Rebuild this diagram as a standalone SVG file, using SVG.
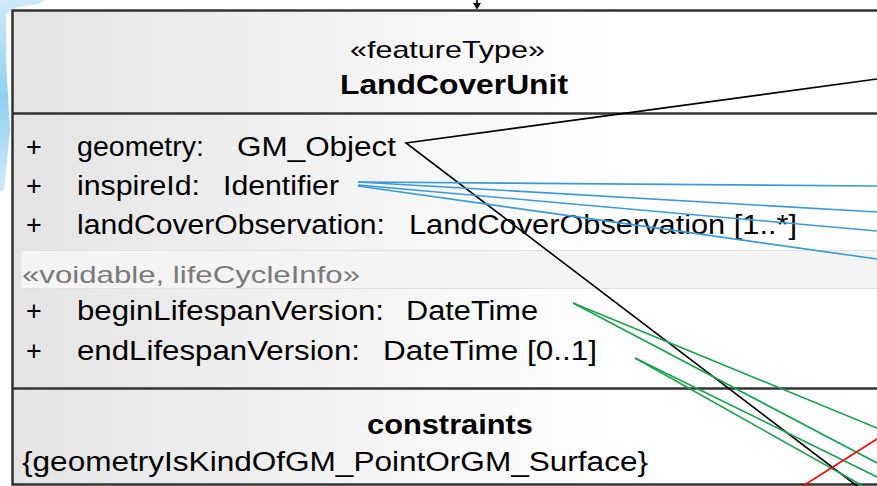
<svg xmlns="http://www.w3.org/2000/svg" width="877" height="486" viewBox="0 0 877 486">
<style>
.t{font-family:"Liberation Sans",Arial,sans-serif;fill:#000;}
.attr{font-size:27px;}
.b{font-weight:bold;}
.grey{fill:#7a7a7a;}
.border{stroke:#333;stroke-width:2.5;fill:none;}
.conn{fill:none;stroke-width:1.6;}
.blk{stroke:#000;}
.blu{stroke:#3a9ad9;}
.grn{stroke:#17a34a;}
.red{stroke:#f00;}
</style>
<defs>
<linearGradient id="boxfill" x1="12" y1="0" x2="620" y2="0" gradientUnits="userSpaceOnUse">
<stop offset="0" stop-color="#e4e4e4"/>
<stop offset="1" stop-color="#ffffff"/>
</linearGradient>
<linearGradient id="deco" x1="0" y1="0" x2="0" y2="1">
<stop offset="0" stop-color="#cfeaf8"/>
<stop offset="0.5" stop-color="#8fd0f2"/>
<stop offset="1" stop-color="#cfeaf8"/>
</linearGradient>
</defs>
<rect x="0" y="0" width="877" height="486" fill="#fff"/>
<path d="M0,0 L46,0 L38,4 L14,8 L6,14 L6,60 L10,130 L4,190 L0,192 Z" fill="url(#deco)"/>
<g id="LandCoverUnit">
<rect x="12.5" y="10.5" width="880" height="474" fill="url(#boxfill)"/>
<rect x="21" y="250.5" width="870" height="38" fill="#f4f4f4" stroke="#e2e2e2" stroke-width="1"/>
<rect x="12.5" y="10.5" width="880" height="474" class="border"/>
<line x1="12" y1="113.5" x2="877" y2="113.5" class="border"/>
<line x1="12" y1="388.5" x2="877" y2="388.5" class="border"/>
<text class="t" x="350" y="58" font-size="24" textLength="195" lengthAdjust="spacingAndGlyphs">«featureType»</text>
<text class="t b" x="340" y="94" font-size="28" textLength="228" lengthAdjust="spacingAndGlyphs">LandCoverUnit</text>
<g class="t attr">
<text x="26" y="156">+</text>
<text x="77" y="156" textLength="127" lengthAdjust="spacingAndGlyphs">geometry:</text>
<text x="237" y="156" textLength="159" lengthAdjust="spacingAndGlyphs">GM_Object</text>
<text x="26" y="195">+</text>
<text x="77" y="195" textLength="123" lengthAdjust="spacingAndGlyphs">inspireId:</text>
<text x="223" y="195" textLength="116" lengthAdjust="spacingAndGlyphs">Identifier</text>
<text x="26" y="234">+</text>
<text x="77" y="234" textLength="308" lengthAdjust="spacingAndGlyphs">landCoverObservation:</text>
<text x="409" y="234" textLength="388" lengthAdjust="spacingAndGlyphs">LandCoverObservation [1..*]</text>
<text class="grey" x="22" y="283" font-size="24" textLength="338" lengthAdjust="spacingAndGlyphs">«voidable, lifeCycleInfo»</text>
<text x="26" y="320">+</text>
<text x="77" y="320" textLength="307" lengthAdjust="spacingAndGlyphs">beginLifespanVersion:</text>
<text x="406" y="320" textLength="132" lengthAdjust="spacingAndGlyphs">DateTime</text>
<text x="26" y="360">+</text>
<text x="77" y="360" textLength="283" lengthAdjust="spacingAndGlyphs">endLifespanVersion:</text>
<text x="383" y="360" textLength="214" lengthAdjust="spacingAndGlyphs">DateTime [0..1]</text>
<text class="b" x="367" y="434" textLength="166" lengthAdjust="spacingAndGlyphs">constraints</text>
<text x="22" y="471" textLength="626" lengthAdjust="spacingAndGlyphs">{geometryIsKindOfGM_PointOrGM_Surface}</text>
</g>
</g>
<g id="connectors">
<line x1="477" y1="0" x2="477" y2="6" class="conn blk"/>
<path d="M473,3 L481,3 L477,9.5 Z" fill="#000"/>
<polyline points="877,79 406,143 857,486" class="conn blk"/>
<line x1="358" y1="182" x2="877" y2="186" class="conn blu"/>
<line x1="358" y1="182" x2="877" y2="212" class="conn blu"/>
<line x1="358" y1="185" x2="877" y2="231" class="conn blu"/>
<line x1="358" y1="186" x2="877" y2="259" class="conn blu"/>
<line x1="573" y1="303" x2="877" y2="428" class="conn grn"/>
<line x1="573" y1="303" x2="877" y2="463" class="conn grn"/>
<line x1="635" y1="358" x2="877" y2="477" class="conn grn"/>
<line x1="635" y1="358" x2="863" y2="486" class="conn grn"/>
<line x1="803" y1="486" x2="877" y2="439" class="conn red"/>
</g>
</svg>
